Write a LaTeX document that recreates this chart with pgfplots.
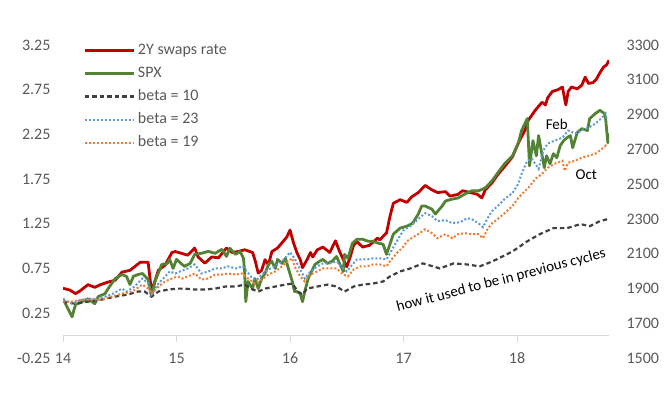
\documentclass[border=0pt]{standalone}
\usepackage{pgfplots}
\pgfplotsset{compat=1.18}
\usepackage{fontspec}
\setmainfont{Carlito}
\definecolor{swapred}{HTML}{C00000}
\definecolor{spxgreen}{HTML}{548235}
\definecolor{bblue}{HTML}{5B9BD5}
\definecolor{borange}{HTML}{ED7D31}
\definecolor{bblack}{HTML}{404040}
\definecolor{tickgray}{HTML}{595959}
\definecolor{axgray}{HTML}{D9D9D9}
\begin{document}
\begin{tikzpicture}
\path[use as bounding box] (0,0) rectangle (667pt,396pt);
\pgfplotsset{
  common/.style={
    at={(63pt,38pt)}, anchor=south west,
    scale only axis, width=546pt, height=313pt,
    xmin=14, xmax=18.81,
    axis line style={draw=none},
    tick style={draw=none},
    /pgf/number format/assume math mode=true,
    tick label style={font=\fontsize{16}{19}\selectfont, text=tickgray},
  },
}
\begin{axis}[common,
  ymin=-0.25, ymax=3.25,
  axis x line*=bottom, axis y line*=left,
  xtick={14,15,16,17,18},
  xticklabels={14,15,16,17,18},
  xticklabel style={anchor=center},
  ytick={-0.25,0.25,0.75,1.25,1.75,2.25,2.75,3.25},
  yticklabel={\pgfmathprintnumber[fixed,fixed zerofill,precision=2,assume math mode=true]{\tick}},
  yticklabel style={xshift=-9pt},
  extra y ticks={0},
  extra y tick labels={},
  extra y tick style={grid=major, major grid style={axgray, line width=1pt}},
]
\pgfplotsinvokeforeach{14,15,16,17,18}{
  \draw[axgray, line width=1pt] (axis cs:#1,0) -- ([yshift=-6pt]axis cs:#1,0);
}
\addplot[swapred, line width=2.8pt, line join=round] table {
x y
14.00 0.53
14.06 0.51
14.11 0.47
14.15 0.50
14.22 0.57
14.28 0.54
14.33 0.57
14.40 0.60
14.46 0.62
14.52 0.71
14.59 0.73
14.68 0.82
14.75 0.82
14.78 0.49
14.84 0.73
14.90 0.79
14.96 0.93
14.99 0.94
15.10 0.90
15.16 0.98
15.19 0.88
15.25 0.81
15.31 0.88
15.37 0.87
15.44 0.98
15.49 0.93
15.54 0.94
15.60 0.96
15.67 0.93
15.69 0.85
15.72 0.70
15.75 0.73
15.78 0.85
15.81 0.79
15.84 0.94
15.89 0.98
15.93 1.04
15.97 1.10
16.00 1.18
16.03 1.04
16.06 0.93
16.09 0.85
16.11 0.76
16.15 0.85
16.18 0.93
16.20 0.88
16.24 0.96
16.29 0.99
16.35 0.93
16.40 1.06
16.44 0.93
16.47 0.85
16.50 0.77
16.53 0.88
16.56 1.01
16.59 1.05
16.64 0.99
16.70 1.01
16.77 1.09
16.79 1.07
16.85 1.15
16.88 1.33
16.91 1.48
16.97 1.52
17.03 1.49
17.07 1.55
17.13 1.60
17.19 1.68
17.25 1.63
17.30 1.60
17.37 1.61
17.41 1.56
17.48 1.58
17.52 1.62
17.59 1.60
17.65 1.58
17.69 1.54
17.72 1.63
17.78 1.71
17.83 1.80
17.89 1.89
17.96 2.00
18.01 2.15
18.07 2.30
18.10 2.41
18.16 2.52
18.22 2.61
18.25 2.58
18.27 2.66
18.31 2.73
18.36 2.75
18.40 2.78
18.42 2.64
18.43 2.58
18.45 2.73
18.48 2.78
18.53 2.76
18.57 2.80
18.60 2.89
18.63 2.82
18.67 2.83
18.70 2.87
18.73 2.94
18.76 3.00
18.79 3.03
18.81 3.08
};
\end{axis}
\begin{axis}[common,
  ymin=1500, ymax=3300,
  axis x line=none, axis y line*=right,
  xtick=\empty,
  ytick={1500,1700,1900,2100,2300,2500,2700,2900,3100,3300},
  yticklabel={\pgfmathprintnumber[fixed,precision=0,1000 sep={},assume math mode=true]{\tick}},
  yticklabel style={xshift=14pt},
  legend image code/.code={\draw[#1] (0pt,0pt) -- (49pt,0pt);},
  legend cell align=left,
  legend style={at={(axis description cs:0.0366,1.01)}, anchor=north west,
    draw=none, fill=none, inner sep=0pt, row sep=6pt, column sep=2pt,
    font=\fontsize{16}{19}\selectfont, text=tickgray,
    nodes={inner sep=1pt, text height=11.5pt, text depth=3.5pt}},
]
\addlegendimage{swapred, line width=2.8pt}
\addlegendentry{2Y swaps rate}
\addplot[spxgreen, line width=2.8pt, line join=round] table {
x y
14.00 1841
14.08 1737
14.11 1807
14.17 1824
14.22 1841
14.28 1812
14.31 1853
14.37 1870
14.41 1911
14.46 1957
14.52 1980
14.56 1969
14.59 1922
14.62 1969
14.66 1980
14.70 1986
14.75 1951
14.78 1853
14.81 1940
14.87 2038
14.92 2044
14.94 2067
14.97 2015
15.00 2067
15.05 2038
15.07 2027
15.12 2044
15.16 2096
15.22 2102
15.28 2113
15.34 2102
15.40 2125
15.44 2084
15.47 2131
15.52 2096
15.56 2113
15.59 2073
15.60 1998
15.61 1824
15.63 1940
15.67 1899
15.69 1957
15.72 1899
15.75 1957
15.78 1986
15.81 2038
15.84 2056
15.87 2015
15.89 2067
15.93 2044
15.96 2073
15.98 2027
16.02 1940
16.04 1882
16.06 1882
16.09 1870
16.11 1824
16.13 1882
16.16 1957
16.19 1998
16.22 2038
16.26 2056
16.29 2067
16.33 2044
16.37 2056
16.41 2084
16.44 2038
16.47 1998
16.48 2096
16.51 2073
16.55 2160
16.59 2183
16.64 2183
16.69 2171
16.73 2171
16.78 2160
16.82 2154
16.85 2096
16.88 2154
16.91 2212
16.97 2247
17.03 2258
17.08 2275
17.13 2328
17.16 2374
17.19 2374
17.25 2356
17.28 2328
17.34 2374
17.37 2403
17.43 2414
17.48 2420
17.54 2443
17.60 2461
17.66 2461
17.72 2478
17.78 2519
17.83 2565
17.89 2617
17.96 2663
18.01 2733
18.04 2808
18.09 2877
18.11 2605
18.14 2750
18.17 2663
18.19 2779
18.21 2704
18.24 2594
18.26 2663
18.29 2617
18.32 2675
18.35 2652
18.38 2721
18.41 2750
18.44 2767
18.47 2779
18.49 2709
18.53 2796
18.57 2819
18.62 2808
18.64 2877
18.69 2906
18.73 2924
18.77 2906
18.78 2877
18.80 2738
18.81 2791
};
\addlegendentry{SPX}
\addplot[bblack, line width=2.2pt, dash pattern=on 4.5pt off 3pt] table {
x y
14.00 1824
14.11 1812
14.22 1824
14.34 1836
14.46 1853
14.57 1865
14.66 1882
14.72 1882
14.78 1853
14.84 1882
14.93 1894
15.01 1899
15.07 1899
15.16 1894
15.25 1894
15.34 1899
15.43 1911
15.52 1911
15.60 1922
15.67 1894
15.72 1882
15.78 1899
15.87 1911
15.96 1922
16.02 1928
16.07 1882
16.11 1865
16.15 1899
16.24 1911
16.33 1922
16.41 1911
16.48 1882
16.56 1911
16.64 1922
16.73 1928
16.82 1940
16.88 1969
16.97 1998
17.06 2015
17.17 2044
17.26 2027
17.32 2015
17.44 2044
17.56 2038
17.67 2027
17.74 2044
17.82 2067
17.96 2113
18.09 2171
18.20 2212
18.32 2247
18.44 2247
18.56 2270
18.64 2258
18.73 2287
18.80 2299
};
\addlegendentry{beta = 10}
\addplot[bblue, line width=2pt, dash pattern=on 2pt off 2pt] table {
x y
14.00 1836
14.08 1812
14.17 1836
14.26 1841
14.31 1836
14.37 1853
14.44 1870
14.52 1899
14.56 1882
14.63 1911
14.70 1957
14.75 1928
14.78 1865
14.84 1928
14.90 1969
14.94 1998
14.99 1986
15.05 2003
15.10 2015
15.16 2038
15.22 1986
15.28 1998
15.34 2015
15.40 2015
15.45 2027
15.52 2015
15.58 2027
15.62 1998
15.67 1957
15.71 1951
15.75 1980
15.81 2009
15.87 2027
15.93 2056
15.97 2084
16.00 2108
16.04 2073
16.09 2009
16.13 1957
16.18 1998
16.24 2027
16.29 2044
16.35 2044
16.41 2056
16.47 2015
16.50 1998
16.55 2038
16.59 2067
16.68 2067
16.73 2073
16.79 2073
16.85 2067
16.88 2102
16.94 2171
17.00 2235
17.06 2258
17.13 2299
17.19 2333
17.25 2316
17.30 2287
17.37 2293
17.43 2275
17.50 2281
17.56 2304
17.60 2299
17.66 2275
17.70 2252
17.74 2304
17.78 2345
17.83 2374
17.89 2414
17.96 2449
18.01 2501
18.04 2559
18.09 2634
18.13 2646
18.19 2588
18.23 2692
18.27 2733
18.33 2750
18.40 2767
18.45 2808
18.51 2791
18.57 2808
18.63 2825
18.69 2848
18.75 2883
18.78 2906
18.79 2866
};
\addlegendentry{beta = 23}
\addplot[borange, line width=2pt, dash pattern=on 2pt off 2pt] table {
x y
14.00 1824
14.08 1824
14.17 1836
14.26 1836
14.34 1836
14.43 1853
14.52 1870
14.61 1882
14.70 1922
14.75 1899
14.78 1870
14.84 1911
14.90 1940
14.96 1957
15.01 1969
15.05 1957
15.10 1969
15.16 1986
15.22 1951
15.28 1957
15.34 1980
15.40 1980
15.45 1986
15.52 1980
15.58 1986
15.63 1957
15.69 1928
15.75 1951
15.81 1980
15.87 1998
15.93 2027
15.98 2056
16.02 2073
16.04 2027
16.09 1969
16.13 1940
16.18 1980
16.24 1998
16.29 2015
16.35 2015
16.41 2015
16.47 1980
16.51 1969
16.56 2009
16.62 2027
16.68 2027
16.73 2038
16.79 2038
16.85 2027
16.88 2056
16.94 2102
17.00 2142
17.03 2171
17.08 2194
17.13 2212
17.19 2241
17.25 2218
17.30 2189
17.37 2212
17.43 2189
17.48 2212
17.54 2218
17.60 2212
17.66 2212
17.70 2189
17.74 2241
17.78 2275
17.83 2299
17.89 2333
17.96 2374
18.01 2420
18.07 2461
18.10 2478
18.16 2530
18.22 2559
18.27 2594
18.33 2617
18.40 2634
18.42 2576
18.45 2623
18.51 2634
18.57 2652
18.63 2663
18.69 2675
18.75 2704
18.78 2721
18.79 2709
};
\addlegendentry{beta = 19}
\node[font=\fontsize{15}{18}\selectfont] at (axis cs:18.35,2843) {Feb};
\node[font=\fontsize{15}{18}\selectfont] at (axis cs:18.61,2553) {Oct};
\node[font=\fontsize{15}{18}\selectfont, rotate=14.5] at (axis cs:17.86,1945) {how it used to be in previous cycles};
\end{axis}
\end{tikzpicture}
\end{document}
